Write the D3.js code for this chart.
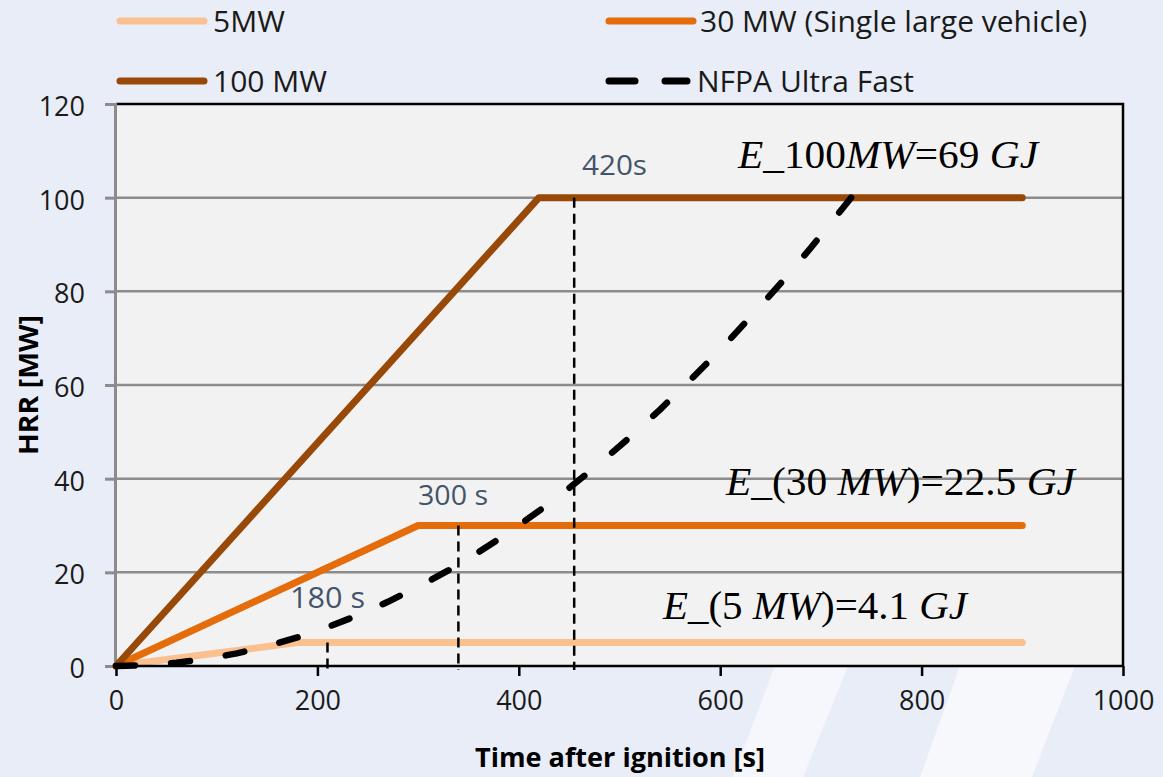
<!DOCTYPE html>
<html>
<head>
<meta charset="utf-8">
<script src="https://cdn.jsdelivr.net/npm/d3@7"></script>
<style>
  html, body { margin: 0; padding: 0; background: #e9edf8; }
  svg { display: block; }
</style>
</head>
<body>
<svg id="chart" width="1163" height="777"></svg>
<script>
// ---------------- data ----------------
const xTicks = [0, 200, 400, 600, 800, 1000];
const yTicks = [0, 20, 40, 60, 80, 100, 120];

const s5T = [0, 180, 900];
const s5Q = [0, 5, 5];
const s30T = [0, 300, 900];
const s30Q = [0, 30, 30];
const s100T = [0, 420, 900];
const s100Q = [0, 100, 100];

// NFPA ultra fast curve
const nfpaT = [0, 30, 60, 90, 120, 150, 180, 210, 240, 270, 300, 330, 360, 390, 420, 450, 480, 510, 540, 570, 600, 630, 660, 690, 720, 730];
const nfpaQ = [0, 0.2, 0.7, 1.5, 2.7, 4.2, 6.1, 8.3, 10.8, 13.7, 16.9, 20.4, 24.3, 28.5, 33.1, 38.0, 43.2, 48.8, 54.7, 61.0, 67.5, 74.5, 81.7, 89.3, 97.3, 100];

// vertical markers: time and top value
const markerT = [210, 340, 455];
const markerTop = [5, 30, 100];

const legendNames = ["5MW", "30 MW (Single large vehicle)", "100 MW", "NFPA Ultra Fast"];
const timeLabels = ["180 s", "300 s", "420s"];

// ---------------- setup ----------------
const svg = d3.select("#chart");
const x = d3.scaleLinear().domain([0, 1000]).range([116, 1123]);
const y = d3.scaleLinear().domain([0, 120]).range([666, 104]);

const C5 = "#fac090", C30 = "#e46c0a", C100 = "#984807";
const sans = "'Open Sans', 'Noto Sans', sans-serif";
const serif = "'Liberation Serif', 'DejaVu Serif', serif";

// background watermark stripes
const stripes = svg.append("g").attr("fill", "#ffffff");
stripes.append("polygon").attr("points", "775,666 848,666 803,777 733,777").attr("opacity", 0.55);
stripes.append("polygon").attr("points", "960,666 1075,666 1032,777 920,777").attr("opacity", 0.6);

// plot background
svg.append("rect")
  .attr("x", x(0)).attr("y", y(120))
  .attr("width", x(1000) - x(0)).attr("height", y(0) - y(120))
  .attr("fill", "#f2f2f2");

// gridlines
svg.append("g").selectAll("line")
  .data(yTicks.filter(d => d > 0 && d < 120))
  .join("line")
  .attr("x1", x(0)).attr("x2", x(1000))
  .attr("y1", d => y(d)).attr("y2", d => y(d))
  .attr("stroke", "#8c8c8c").attr("stroke-width", 2.5);

// top and right border
svg.append("path")
  .attr("d", `M${x(0)},${y(120)}H${x(1000)}V${y(0)}`)
  .attr("fill", "none").attr("stroke", "#000").attr("stroke-width", 2.5);

// y axis
const yAxis = svg.append("g")
  .attr("transform", `translate(${x(0) - 1},0)`)
  .call(d3.axisLeft(y).tickValues(yTicks).tickSize(10).tickPadding(20));
yAxis.select(".domain").attr("stroke", "#8c8c8c").attr("stroke-width", 3);
yAxis.selectAll(".tick line").attr("stroke", "#8c8c8c").attr("stroke-width", 3);
yAxis.selectAll(".tick text")
  .attr("font-family", sans).attr("font-size", 27).attr("fill", "#1a1a1a")
  .attr("dy", "0.42em");

// annotations (time labels & formulas)
const ann = svg.append("g");
const tl = [
  {t: timeLabels[0], x: 290, y: 608, s: 30, w: 75},
  {t: timeLabels[1], x: 418, y: 505, s: 27, w: 70},
  {t: timeLabels[2], x: 582, y: 175, s: 27, w: 65}
];
ann.selectAll("text.tl").data(tl).join("text")
  .attr("class", "tl")
  .attr("x", d => d.x).attr("y", d => d.y)
  .attr("font-family", sans).attr("font-size", d => d.s)
  .attr("fill", "#44546a")
  .attr("textLength", d => d.w).attr("lengthAdjust", "spacingAndGlyphs")
  .text(d => d.t);

function formula(parts, px, py, w) {
  const t = ann.append("text")
    .attr("x", px).attr("y", py)
    .attr("font-family", serif).attr("font-size", 39).attr("fill", "#000")
    .attr("textLength", w).attr("lengthAdjust", "spacingAndGlyphs");
  parts.forEach(p => {
    t.append("tspan").attr("font-style", p[1] ? "italic" : "normal").text(p[0]);
  });
}
formula([["E_", 1], ["100", 0], ["MW", 1], ["=69 ", 0], ["GJ", 1]], 738, 168, 300);
formula([["E_", 1], ["(30 ", 0], ["MW", 1], [")=22.5 ", 0], ["GJ", 1]], 726, 495, 349);
formula([["E_", 1], ["(5 ", 0], ["MW", 1], [")=4.1 ", 0], ["GJ", 1]], 663, 619, 304);

// series lines
const line = d3.line().x(d => x(d[0])).y(d => y(d[1]));
const seriesData = [
  {pts: d3.zip(s5T, s5Q), c: C5},
  {pts: d3.zip(s30T, s30Q), c: C30},
  {pts: d3.zip(s100T, s100Q), c: C100}
];
svg.append("g").selectAll("path").data(seriesData).join("path")
  .attr("d", d => line(d.pts))
  .attr("fill", "none").attr("stroke", d => d.c)
  .attr("stroke-width", 7).attr("stroke-linecap", "round").attr("stroke-linejoin", "round");

// x axis
const xAxis = svg.append("g")
  .attr("transform", `translate(0,${y(0)})`)
  .call(d3.axisBottom(x).tickValues(xTicks).tickFormat(d3.format("d")).tickSize(10).tickPadding(15));
xAxis.select(".domain").attr("stroke", "#000").attr("stroke-width", 2.5)
  .attr("d", `M${x(0) - 3},0H${x(1000)}`);
xAxis.selectAll(".tick line").attr("stroke", "#000").attr("stroke-width", 2.5);
xAxis.selectAll(".tick text")
  .attr("font-family", sans).attr("font-size", 27).attr("fill", "#1a1a1a");

// NFPA dashed curve (dash period fitted so both ends show a dash)
const nfpaPath = svg.append("path")
  .attr("d", line(d3.zip(nfpaT, nfpaQ)))
  .attr("fill", "none").attr("stroke", "#000").attr("stroke-width", 6.5)
  .attr("stroke-linecap", "round");
const L = nfpaPath.node().getTotalLength();
const dashLen = 19;
const nPer = Math.max(1, Math.round((L - dashLen) / 54));
const per = (L - dashLen) / nPer;
nfpaPath.attr("stroke-dasharray", `${dashLen},${per - dashLen}`);

// vertical marker lines
svg.append("g").selectAll("line")
  .data(d3.zip(markerT, markerTop)).join("line")
  .attr("x1", d => x(d[0])).attr("x2", d => x(d[0]))
  .attr("y1", d => y(d[1])).attr("y2", y(0) + 4)
  .attr("stroke", "#000").attr("stroke-width", 2.5).attr("stroke-dasharray", "10,6");

// axis titles
svg.append("text")
  .attr("x", 620).attr("y", 767).attr("text-anchor", "middle")
  .attr("font-family", sans).attr("font-weight", "bold").attr("font-size", 27)
  .attr("fill", "#000")
  .attr("textLength", 290).attr("lengthAdjust", "spacingAndGlyphs")
  .text("Time after ignition [s]");
svg.append("text")
  .attr("transform", `translate(38,${(y(0) + y(120)) / 2}) rotate(-90)`)
  .attr("text-anchor", "middle")
  .attr("font-family", sans).attr("font-weight", "bold").attr("font-size", 27)
  .attr("fill", "#000")
  .attr("textLength", 140).attr("lengthAdjust", "spacingAndGlyphs")
  .text("HRR [MW]");

// legend
const legend = [
  {name: legendNames[0], c: C5, lx: 120, ly: 21, tx: 213, dash: null},
  {name: legendNames[1], c: C30, lx: 609, ly: 21, tx: 700, dash: null},
  {name: legendNames[2], c: C100, lx: 120, ly: 81, tx: 213, dash: null},
  {name: legendNames[3], c: "#000", lx: 609, ly: 81, tx: 697, dash: "26,30"}
];
const lg = svg.append("g").selectAll("g").data(legend).join("g");
lg.append("line")
  .attr("x1", d => d.lx).attr("x2", d => d.dash ? d.lx + 78 : d.lx + 84)
  .attr("y1", d => d.ly).attr("y2", d => d.ly)
  .attr("stroke", d => d.c).attr("stroke-width", 7).attr("stroke-linecap", "round")
  .attr("stroke-dasharray", d => d.dash);
lg.append("text")
  .attr("x", d => d.tx).attr("y", d => d.ly + 11)
  .attr("font-family", sans).attr("font-size", 30).attr("fill", "#1a1a1a")
  .text(d => d.name);
</script>
</body>
</html>
